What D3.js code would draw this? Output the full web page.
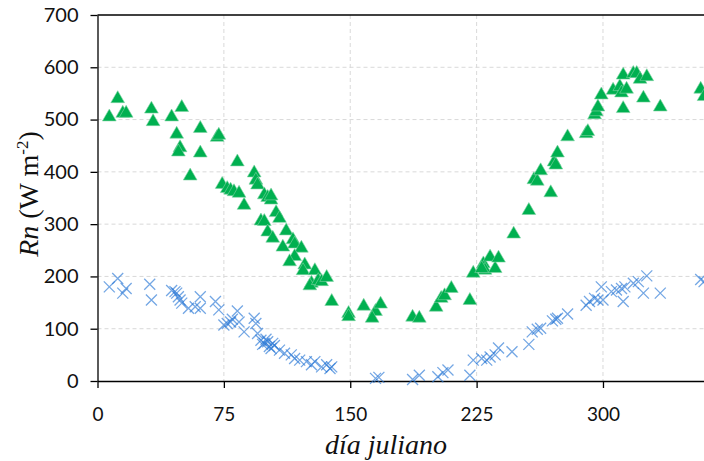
<!DOCTYPE html>
<html>
<head>
<meta charset="utf-8">
<script src="https://cdn.jsdelivr.net/npm/d3@7"></script>
<style>
  body { margin: 0; background: #fff; }
  svg { display: block; }
</style>
</head>
<body>
<div class="chart"></div>
<script>
// green triangles (upper series)
var greenDay = [7, 12, 15, 17, 32, 33, 44, 50, 47, 49, 48, 61, 61, 55, 71, 72, 83, 74, 77, 79,
  81, 84, 87, 93, 94, 95, 99, 101, 103, 103, 106, 108, 97, 99, 101, 104, 112, 116, 117, 110,
  121, 117, 114, 123, 122, 129, 127, 126, 131, 133, 136, 139, 149, 149, 158, 165, 163, 168, 187, 191,
  201, 204, 206, 210, 221, 223, 229, 230, 233, 236, 238, 228, 247, 256, 259, 261, 263, 269, 271, 272,
  273, 279, 290, 291, 295, 296, 297, 299, 306, 310, 311, 314, 312, 312, 318, 320, 322, 326, 324, 334,
  358, 360];
var greenRn = [505, 540, 512, 512, 520, 496, 505, 523, 472, 446, 438, 483, 436, 392, 466, 470, 419, 376, 368, 365,
  362, 359, 336, 398, 384, 375, 356, 351, 346, 354, 322, 311, 306, 305, 285, 273, 287, 270, 262, 256,
  254, 238, 228, 222, 211, 211, 187, 182, 192, 190, 198, 152, 129, 123, 143, 133, 120, 147, 122, 120,
  141, 158, 163, 177, 154, 206, 224, 212, 237, 215, 235, 215, 281, 326, 385, 382, 402, 360, 419, 413,
  436, 467, 473, 477, 509, 515, 524, 547, 556, 563, 551, 558, 521, 585, 588, 588, 577, 582, 541, 524,
  558, 544];

// blue crosses (lower series)
var blueDay = [7, 12, 15, 17, 31, 32, 44, 46, 47, 48, 49, 50, 54, 61, 61, 58, 70, 72, 75, 77,
  79, 80, 83, 84, 87, 93, 94, 95, 97, 98, 99, 100, 101, 102, 103, 104, 105, 108, 111, 115,
  117, 120, 124, 127, 129, 133, 136, 138, 139, 165, 167, 187, 191, 202, 205, 208, 221, 223, 228, 231,
  233, 236, 238, 246, 256, 258, 261, 263, 270, 272, 273, 279, 290, 292, 295, 297, 299, 300, 305, 308,
  311, 312, 313, 318, 321, 324, 326, 334, 358, 360];
var blueRn = [180, 196, 168, 177, 185, 155, 173, 171, 168, 161, 155, 149, 139, 161, 139, 142, 152, 136, 107, 110,
  113, 118, 134, 113, 94, 120, 110, 91, 78, 70, 72, 80, 75, 66, 62, 72, 68, 59, 53, 50,
  43, 40, 37, 31, 37, 27, 31, 24, 27, 5, 7, 3, 11, 8, 16, 21, 11, 40, 43, 40,
  46, 50, 63, 56, 70, 94, 99, 101, 115, 118, 120, 128, 145, 152, 158, 155, 180, 155, 171, 174,
  177, 152, 180, 187, 190, 168, 201, 168, 194, 190];

var xTicks = [0, 75, 150, 225, 300];
var yTicks = [0, 100, 200, 300, 400, 500, 600, 700];

var svgWidth = 704;
var svgHeight = 461;

var margin = { top: 15, left: 97.5 };
var height = 366;
var width = 615;   // axis runs past the right edge of the picture

var svg = d3.select(".chart")
  .append("svg")
  .attr("width", svgWidth)
  .attr("height", svgHeight);

var chartGroup = svg.append("g")
  .attr("transform", `translate(${margin.left}, ${margin.top})`);

var xScale = d3.scaleLinear().domain([0, 365]).range([0, width]);
var yScale = d3.scaleLinear().domain([0, 700]).range([height, 0]);

// dashed grid
chartGroup.append("g")
  .selectAll("line")
  .data(yTicks.filter(d => d > 0 && d < 700))
  .enter()
  .append("line")
  .attr("x1", 0)
  .attr("x2", width)
  .attr("y1", d => yScale(d))
  .attr("y2", d => yScale(d))
  .attr("stroke", "#d9d9d9")
  .attr("stroke-width", 1)
  .attr("stroke-dasharray", "4,3");

chartGroup.append("g")
  .selectAll("line")
  .data(xTicks.filter(d => d > 0))
  .enter()
  .append("line")
  .attr("x1", d => xScale(d))
  .attr("x2", d => xScale(d))
  .attr("y1", 0)
  .attr("y2", height)
  .attr("stroke", "#d9d9d9")
  .attr("stroke-width", 1)
  .attr("stroke-dasharray", "4,3");

// top border
chartGroup.append("line")
  .attr("x1", 0)
  .attr("x2", width)
  .attr("y1", 0)
  .attr("y2", 0)
  .attr("stroke", "#000")
  .attr("stroke-width", 1.3);

// axes
var xAxis = d3.axisBottom(xScale).tickValues(xTicks).tickSize(7).tickPadding(20).tickSizeOuter(0);
var yAxis = d3.axisLeft(yScale).tickValues(yTicks).tickSize(7).tickPadding(12).tickSizeOuter(0);

var gx = chartGroup.append("g")
  .attr("transform", `translate(0, ${height})`)
  .call(xAxis);
var gy = chartGroup.append("g")
  .call(yAxis);

[gx, gy].forEach(function(g) {
  g.select(".domain").attr("stroke", "#000").attr("stroke-width", 1.3);
  g.selectAll(".tick line").attr("stroke", "#000").attr("stroke-width", 1.3);
  g.selectAll(".tick text")
    .attr("fill", "#111")
    .attr("font-family", "Lato, 'Open Sans', sans-serif");
});
gx.selectAll(".tick text").attr("font-size", "19px");
gy.selectAll(".tick text").attr("font-size", "20px");

// blue crosses
chartGroup.append("g")
  .selectAll("path")
  .data(blueDay)
  .enter()
  .append("path")
  .attr("transform", (d, i) => `translate(${xScale(d)}, ${yScale(blueRn[i])})`)
  .attr("d", "M-5.5,-5.5L5.5,5.5M-5.5,5.5L5.5,-5.5")
  .attr("fill", "none")
  .attr("stroke", "#2a78d6")
  .attr("stroke-width", 1.3)
  .attr("opacity", 0.65);

// green triangles
var tri = d3.symbol().type(d3.symbolTriangle).size(82);
chartGroup.append("g")
  .selectAll("path")
  .data(greenDay)
  .enter()
  .append("path")
  .attr("transform", (d, i) => `translate(${xScale(d)}, ${yScale(greenRn[i])})`)
  .attr("d", tri)
  .attr("fill", "#00b050")
  .attr("stroke", "#7fd3a4")
  .attr("stroke-width", 0.6);

// axis titles
svg.append("text")
  .attr("x", 386)
  .attr("y", 454)
  .attr("text-anchor", "middle")
  .attr("font-family", "'Liberation Serif', 'DejaVu Serif', serif")
  .attr("font-style", "italic")
  .attr("font-size", "28px")
  .attr("fill", "#111")
  .text("día juliano");

var yTitle = svg.append("text")
  .attr("transform", "translate(38, 194) rotate(-90)")
  .attr("text-anchor", "middle")
  .attr("font-family", "'Liberation Serif', 'DejaVu Serif', serif")
  .attr("font-size", "28px")
  .attr("fill", "#111");
yTitle.append("tspan").attr("font-style", "italic").text("Rn");
yTitle.append("tspan").text(" (W m");
yTitle.append("tspan").attr("font-size", "17px").attr("dy", "-10").text("-2");
yTitle.append("tspan").attr("dy", "10").text(")");
</script>
</body>
</html>
